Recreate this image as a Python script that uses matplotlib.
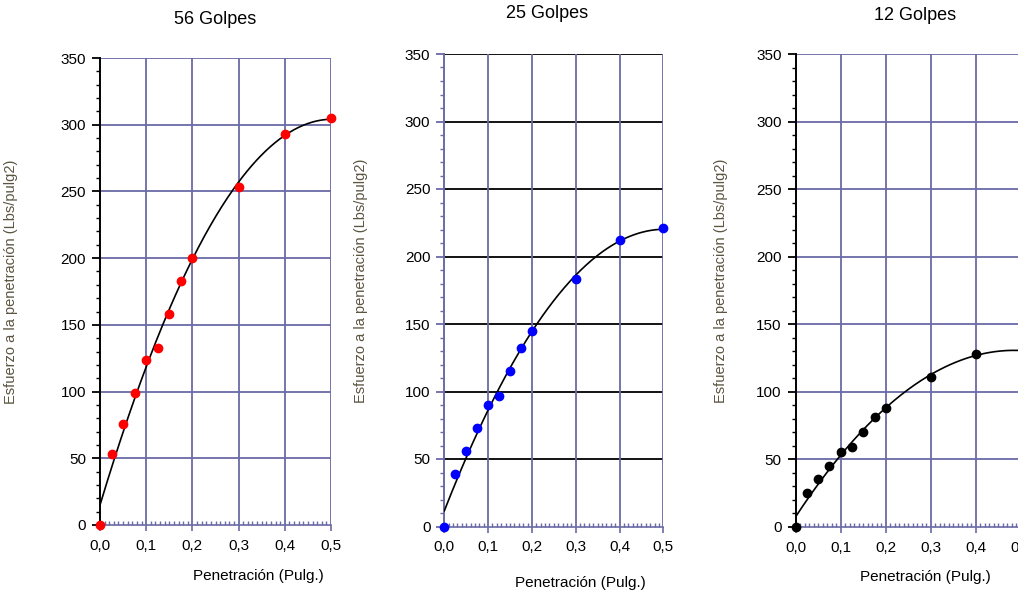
import numpy as np
import matplotlib
matplotlib.use("Agg")
import matplotlib.pyplot as plt
from matplotlib.ticker import MultipleLocator

plt.rcParams["font.family"] = ["Liberation Sans", "DejaVu Sans"]

# penetracion (pulg) y esfuerzo (lbs/pulg2)
pen = [0.0, 0.025, 0.05, 0.075, 0.1, 0.125, 0.15, 0.175, 0.2, 0.3, 0.4, 0.5]
esf_56 = [0, 53, 76, 99, 124, 133, 158, 183, 200, 253, 293, 305]
esf_25 = [0, 39, 56, 73, 90, 97, 115, 132, 145, 183, 212, 221]
esf_12 = [0, 25, 35, 45, 55, 59, 70, 81, 88, 111, 128]

titles = ["56 Golpes", "25 Golpes", "12 Golpes"]
xtick_vals = [0.0, 0.1, 0.2, 0.3, 0.4, 0.5]
xtick_labels = ["0,0", "0,1", "0,2", "0,3", "0,4", "0,5"]
ytick_vals = [0, 50, 100, 150, 200, 250, 300, 350]

GRID = "#6a6aa6"
W, H = 1018, 592

# px boxes: left, right, top, bottom
boxes = [(100, 331, 58, 525), (444.3, 663.3, 54, 526.5), (795.7, 1021, 54, 526.7)]
title_pos = [(215, 20), (546.7, 14), (915, 16)]
ylab_x = [-0.355, -0.348, -0.30]
xlab_pos = [(0.684, -0.109), (0.622, -0.12), (0.576, -0.106)]
series = [esf_56, esf_25, esf_12]
colors = ["#ff0000", "#0000ff", "#000000"]

fig = plt.figure(figsize=(W / 100, H / 100), dpi=100)

for i, (l, r, t, b) in enumerate(boxes):
    ax = fig.add_axes([l / W, 1 - b / H, (r - l) / W, (b - t) / H])
    ax.set_xlim(0, 0.5)
    ax.set_ylim(0, 350)
    for s in ["top", "right"]:
        ax.spines[s].set_visible(False)
    ax.spines["bottom"].set_color(GRID)
    ax.spines["bottom"].set_linewidth(1.2)
    left_col = GRID if i == 1 else "black"
    ax.spines["left"].set_color(left_col)
    ax.spines["left"].set_linewidth(1.4)

    hcol = "black" if i == 1 else GRID
    for y in ytick_vals[1:]:
        ax.axhline(y, color=hcol, lw=1.3, zorder=1)
    for x in xtick_vals[1:]:
        ax.axvline(x, color=GRID, lw=1.3, zorder=1)

    ax.set_xticks(xtick_vals)
    ax.set_xticklabels(xtick_labels)
    ax.set_yticks(ytick_vals)
    ax.xaxis.set_minor_locator(MultipleLocator(0.01))
    ax.yaxis.set_minor_locator(MultipleLocator(10))
    ax.tick_params(axis="x", which="major", direction="out", length=4, width=1.2,
                   color=GRID, labelsize=11, pad=6)
    ax.tick_params(axis="x", which="minor", direction="in", length=3, width=1.0, color=GRID)
    ax.tick_params(axis="y", which="major", direction="out", length=6, width=1.3,
                   color=left_col, labelsize=11, pad=4)
    ax.tick_params(axis="y", which="minor", direction="out", length=3, width=1.0, color=left_col)

    ys = series[i]
    xs = pen[:len(ys)]
    # linea de tendencia polinomica (grado 2)
    coef = np.polyfit(xs, ys, 2)
    xf = np.linspace(0, 0.5, 200)
    ax.plot(xf, np.polyval(coef, xf), color="black", lw=1.2, zorder=3)
    ax.plot(xs, ys, "o", color=colors[i], ms=6, zorder=4, clip_on=False)

    ax.set_ylabel("Esfuerzo a la penetración (Lbs/pulg2)", fontsize=10.5, color="#5a5440")
    ax.yaxis.set_label_coords(ylab_x[i], 0.52)
    ax.set_xlabel("Penetración (Pulg.)", fontsize=11)
    ax.xaxis.label.set_va("center")
    ax.xaxis.set_label_coords(*xlab_pos[i])

    tx, ty = title_pos[i]
    fig.text(tx / W, 1 - ty / H, titles[i], ha="center", va="center", fontsize=13)

fig.savefig("out.png", dpi=100)
